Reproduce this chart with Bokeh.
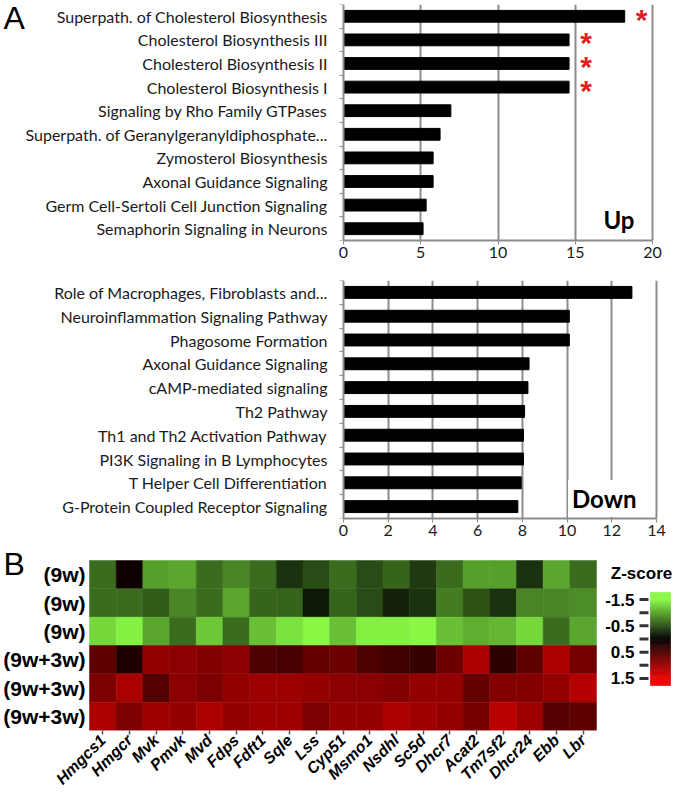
import math
import numpy as np
from bokeh.plotting import figure
from bokeh.layouts import column
from bokeh.models import Range1d, FixedTicker, Label, ColumnDataSource
from bokeh.transform import linear_cmap
from bokeh.core.properties import value
from bokeh.embed import file_html
from bokeh.resources import INLINE

# ---------------- data ----------------
up_terms = [
    "Superpath. of Cholesterol Biosynthesis",
    "Cholesterol Biosynthesis III",
    "Cholesterol Biosynthesis II",
    "Cholesterol Biosynthesis I",
    "Signaling by Rho Family GTPases",
    "Superpath. of Geranylgeranyldiphosphate...",
    "Zymosterol Biosynthesis",
    "Axonal Guidance Signaling",
    "Germ Cell-Sertoli Cell Junction Signaling",
    "Semaphorin Signaling in Neurons",
]
up_values = [18.2, 14.6, 14.6, 14.6, 6.95, 6.25, 5.8, 5.8, 5.35, 5.15]
up_significant = [True, True, True, True, False, False, False, False, False, False]

down_terms = [
    "Role of Macrophages, Fibroblasts and...",
    "Neuroinflammation Signaling Pathway",
    "Phagosome Formation",
    "Axonal Guidance Signaling",
    "cAMP-mediated signaling",
    "Th2 Pathway",
    "Th1 and Th2 Activation Pathway",
    "PI3K Signaling in B Lymphocytes",
    "T Helper Cell Differentiation",
    "G-Protein Coupled Receptor Signaling",
]
down_values = [12.9, 10.1, 10.1, 8.3, 8.25, 8.1, 8.05, 8.05, 7.95, 7.8]

up_ticks = [0, 5, 10, 15, 20]
down_ticks = [0, 2, 4, 6, 8, 10, 12, 14]

genes = ["Hmgcs1", "Hmgcr", "Mvk", "Pmvk", "Mvd", "Fdps", "Fdft1", "Sqle", "Lss",
         "Cyp51", "Msmo1", "Nsdhl", "Sc5d", "Dhcr7", "Acat2", "Tm7sf2", "Dhcr24",
         "Ebb", "Lbr"]
samples = ["(9w)", "(9w)", "(9w)", "(9w+3w)", "(9w+3w)", "(9w+3w)"]

z_row1 = [-0.65, 0.1, -0.95, -1.0, -0.65, -0.8, -0.65, -0.3, -0.45, -0.65,
          -0.45, -0.6, -0.35, -0.65, -0.95, -0.95, -0.3, -1.0, -0.65]
z_row2 = [-0.65, -0.65, -0.55, -0.8, -0.65, -1.0, -0.6, -0.6, -0.15, -0.6,
          -0.45, -0.2, -0.3, -0.75, -0.5, -0.3, -0.8, -0.8, -0.85]
z_row3 = [-1.3, -1.45, -1.0, -0.65, -1.2, -0.65, -1.15, -1.35, -1.5, -1.15,
          -1.45, -1.45, -1.5, -1.15, -1.05, -1.1, -1.3, -0.65, -1.0]
z_row4 = [0.6, 0.2, 0.95, 0.9, 0.85, 0.9, 0.5, 0.45, 0.65, 0.7,
          0.5, 0.4, 0.35, 0.7, 1.1, 0.3, 0.6, 1.1, 0.75]
z_row5 = [0.8, 1.1, 0.55, 0.9, 0.8, 0.95, 1.0, 1.0, 0.95, 0.9,
          0.9, 0.85, 0.95, 0.95, 0.65, 0.85, 0.85, 0.95, 1.15]
z_row6 = [1.1, 0.8, 1.0, 0.95, 1.1, 0.95, 1.0, 1.0, 0.8, 0.95,
          0.95, 1.1, 1.0, 0.95, 0.75, 1.2, 1.0, 0.55, 0.6]
z_rows = [z_row1, z_row2, z_row3, z_row4, z_row5, z_row6]

colorbar_ticks = [-1.5, -0.5, 0.5, 1.5]
colorbar_minor = [-1.5, -1.0, -0.5, 0.0, 0.5, 1.0, 1.5]
colorbar_labels = ["-1.5", "-0.5", "0.5", "1.5"]

# ---------------- styles ----------------
GRID = "#8c8c8c"
FONT = "Lato"
ARIAL = "Liberation Sans"
PAGE_W = 677
AXIS_X = 343          # page x of the value 0 in both bar panels

GREEN = np.array([136, 248, 68])
RED = np.array([232, 0, 0])
palette = []
for t in np.linspace(-1, 1, 256):
    c = GREEN * (-t) if t < 0 else RED * t
    palette.append("#%02x%02x%02x" % tuple(int(round(v)) for v in c))


def bar_panel(terms, values, ticks, height, b_top, b_bottom, right_px):
    n = len(terms)
    ypos = list(range(n, 0, -1))
    xmax = ticks[-1]
    ppu = (right_px - AXIS_X) / xmax          # pixels per unit
    p = figure(width=PAGE_W, height=height,
               x_range=Range1d(-AXIS_X / ppu, xmax + (PAGE_W - right_px) / ppu),
               y_range=Range1d(0.5, n + 0.5), output_backend="svg",
               toolbar_location=None, title=None,
               min_border_left=0, min_border_right=0,
               min_border_top=b_top, min_border_bottom=b_bottom)
    p.outline_line_color = None
    src = ColumnDataSource(dict(y=ypos, v=values))
    p.hbar(y="y", right="v", left=0, height=0.5, source=src,
           fill_color="black", line_color="black")

    p.ygrid.visible = False
    p.xgrid.ticker = FixedTicker(ticks=ticks[1:])
    p.xgrid.grid_line_color = GRID
    p.xgrid.grid_line_width = 2

    xa = p.xaxis[0]
    xa.ticker = FixedTicker(ticks=ticks)
    xa.bounds = (0, xmax)
    xa.axis_line_color = GRID
    xa.axis_line_width = 2
    xa.major_tick_line_color = GRID
    xa.major_tick_out = 4
    xa.major_tick_in = 0
    xa.minor_tick_line_color = None
    xa.major_label_text_font = FONT
    xa.major_label_text_font_size = "16px"
    xa.major_label_text_color = "#1a1a1a"
    xa.major_label_standoff = 2

    ya = p.yaxis[0]
    ya.fixed_location = 0
    ya.ticker = FixedTicker(ticks=ypos, minor_ticks=[k + 0.5 for k in range(n + 1)])
    ya.major_label_overrides = {y: t for y, t in zip(ypos, terms)}
    ya.axis_line_color = GRID
    ya.axis_line_width = 2
    ya.major_tick_out = 0
    ya.major_tick_in = 0
    ya.minor_tick_out = 4
    ya.minor_tick_in = 0
    ya.minor_tick_line_color = GRID
    ya.minor_tick_line_width = 1
    ya.major_label_text_font = FONT
    ya.major_label_text_font_size = "16px"
    ya.major_label_text_color = "#1a1a1a"
    ya.major_label_standoff = 12
    return p, ypos


# ---------------- panel A: up ----------------
p1, ypos_up = bar_panel(up_terms, up_values, up_ticks, 270, 4, 30, 652)
star_x = [v + 1.1 for v, s in zip(up_values, up_significant) if s]
star_y = [y for y, s in zip(ypos_up, up_significant) if s]
p1.text(x=star_x, y=star_y, text=["*"] * len(star_x), text_color="#e02020",
        text_font=value(ARIAL), text_font_size="30px", text_font_style="bold",
        text_align="center", text_baseline="middle", y_offset=3)
p1.add_layout(Label(x=634, y=240 - 219, x_units="screen", y_units="screen", text="Up",
                    text_font=FONT, text_font_size="24px", text_font_style="bold",
                    text_align="right", text_baseline="middle", text_color="black"))
p1.add_layout(Label(x=3, y=240 - 17, x_units="screen", y_units="screen", text="A",
                    text_font=ARIAL, text_font_size="32px",
                    text_align="left", text_baseline="middle", text_color="black"))

# ---------------- panel A: down ----------------
p2, ypos_down = bar_panel(down_terms, down_values, down_ticks, 275, 10, 27, 656)
p2.add_layout(Label(x=640, y=518 - 498, x_units="screen", y_units="screen", text="Down",
                    text_font=FONT, text_font_size="24px", text_font_style="bold",
                    text_align="right", text_baseline="middle", text_color="black",
                    background_fill_color="white", padding=4))

# ---------------- panel B: heatmap + colour bar ----------------
ncol = len(genes)
nrow = len(samples)
H_LEFT, H_RIGHT, H_TOP, H_BOT = 89, 596, 560, 730
F_TOP = 545
CB_L, CB_R, CB_TOP, CB_BOT = 650, 670, 592, 685
CB_LO, CB_HI = -1.77, 1.77

colw = (H_RIGHT - H_LEFT) / ncol
rowh = (H_BOT - H_TOP) / nrow
x_start = 0.5 - H_LEFT / colw
x_end = 0.5 + (PAGE_W - H_LEFT) / colw
y_top = 0.5 - (H_TOP - F_TOP) / rowh

k = (CB_HI - CB_LO) / (CB_BOT - CB_TOP)
cb_start = CB_HI + (H_BOT - CB_BOT) * k
cb_end = CB_LO - (CB_TOP - F_TOP) * k

p3 = figure(width=PAGE_W, height=252, x_range=Range1d(x_start, x_end),
            y_range=Range1d(nrow + 0.5, y_top), output_backend="svg",
            toolbar_location=None, title=None,
            min_border_left=0, min_border_right=0,
            min_border_top=0, min_border_bottom=252 - (H_BOT - F_TOP))
p3.extra_x_ranges = {"px": Range1d(0, PAGE_W)}
p3.extra_y_ranges = {"py": Range1d(H_BOT, F_TOP), "cb": Range1d(cb_start, cb_end)}
p3.outline_line_color = None
p3.grid.visible = False
p3.yaxis.visible = False

hx, hy, hz = [], [], []
for r, zr in enumerate(z_rows):
    for c, z in enumerate(zr):
        hx.append(c + 1)
        hy.append(r + 1)
        hz.append(z)
hsrc = ColumnDataSource(dict(x=hx, y=hy, z=hz))
cmap = linear_cmap("z", palette, -1.5, 1.5)
p3.rect(x="x", y="y", width=1, height=1, source=hsrc,
        fill_color=cmap, line_color=cmap, line_width=0.5)

p3.text(x=[0.5] * nrow, y=list(range(1, nrow + 1)), text=samples, x_offset=-4,
        text_font=value(ARIAL), text_font_style="bold", text_font_size="21px",
        text_align="right", text_baseline="middle", text_color="black")

xa = p3.xaxis[0]
xa.ticker = FixedTicker(ticks=list(range(1, ncol + 1)))
xa.major_label_overrides = {i + 1: g for i, g in enumerate(genes)}
xa.major_label_orientation = math.pi / 4
xa.axis_line_color = None
xa.major_tick_out = 4
xa.major_tick_in = 0
xa.major_tick_line_color = "#555555"
xa.major_tick_line_width = 1.5
xa.minor_tick_line_color = None
xa.major_label_text_font = ARIAL
xa.major_label_text_font_style = "bold italic"
xa.major_label_text_font_size = "16px"
xa.major_label_text_color = "black"
xa.major_label_standoff = 3

p3.text(x=[3], y=[563], text=["B"], x_range_name="px", y_range_name="py",
        text_font=value(ARIAL), text_font_size="32px", text_align="left",
        text_baseline="middle", text_color="black")

edges = np.linspace(CB_LO, CB_HI, 121)
csrc = ColumnDataSource(dict(b=edges[:-1], t=edges[1:], v=(edges[:-1] + edges[1:]) / 2))
ccmap = linear_cmap("v", palette, -1.5, 1.5)
p3.quad(left=CB_L, right=CB_R, bottom="b", top="t", source=csrc,
        x_range_name="px", y_range_name="cb",
        fill_color=ccmap, line_color=ccmap, line_width=0.5)
p3.segment(x0=CB_L - 11, x1=CB_L - 2, y0=colorbar_minor, y1=colorbar_minor,
           x_range_name="px", y_range_name="cb", line_color="#333333", line_width=3)
p3.text(x=[CB_L - 16] * len(colorbar_ticks), y=colorbar_ticks, text=colorbar_labels,
        x_range_name="px", y_range_name="cb",
        text_font=value(ARIAL), text_font_style="bold", text_font_size="17px",
        text_align="right", text_baseline="middle", text_color="black")
p3.text(x=[641], y=[573], text=["Z-score"], x_range_name="px", y_range_name="py",
        text_font=value(ARIAL), text_font_style="bold", text_font_size="17px",
        text_align="center", text_baseline="middle", text_color="black")

layout = column(p1, p2, p3)

with open("out.html", "w") as f:
    f.write(file_html(layout, INLINE))
